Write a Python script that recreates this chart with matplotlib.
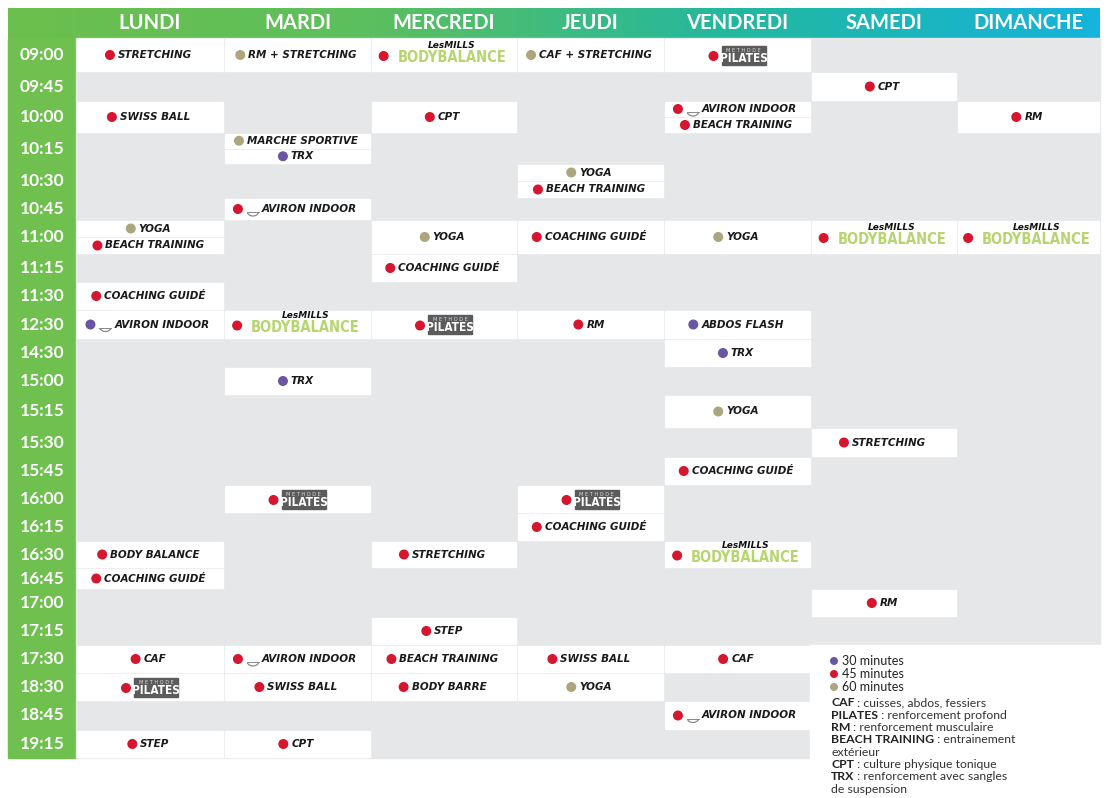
import matplotlib
matplotlib.use("Agg")
import matplotlib.pyplot as plt
from matplotlib.patches import Rectangle, Circle, Arc
from matplotlib.colors import LinearSegmentedColormap
import numpy as np

days = ["LUNDI", "MARDI", "MERCREDI", "JEUDI", "VENDREDI", "SAMEDI", "DIMANCHE"]
times = ["09:00", "09:45", "10:00", "10:15", "10:30", "10:45", "11:00", "11:15", "11:30",
         "12:30", "14:30", "15:00", "15:15", "15:30", "15:45", "16:00", "16:15", "16:30",
         "16:45", "17:00", "17:15", "17:30", "18:30", "18:45", "19:15"]
durations = [30, 45, 60]
dur_colors = {30: "#6a55a4", 45: "#d6152f", 60: "#aca67e"}

# events: (day index, time, label, duration, part)
lundi = [(0, "09:00", "STRETCHING", 45, "full"), (0, "10:00", "SWISS BALL", 45, "full"),
         (0, "11:00", "YOGA", 60, "top"), (0, "11:00", "BEACH TRAINING", 45, "bottom"),
         (0, "11:30", "COACHING GUIDÉ", 45, "full"), (0, "12:30", "AVIRON INDOOR", 30, "full"),
         (0, "16:30", "BODY BALANCE", 45, "full"), (0, "16:45", "COACHING GUIDÉ", 45, "full"),
         (0, "17:30", "CAF", 45, "full"), (0, "18:30", "PILATES", 45, "full"),
         (0, "19:15", "STEP", 45, "full")]
mardi = [(1, "09:00", "RM + STRETCHING", 60, "full"), (1, "10:15", "MARCHE SPORTIVE", 60, "top"),
         (1, "10:15", "TRX", 30, "bottom"), (1, "10:45", "AVIRON INDOOR", 45, "full"),
         (1, "12:30", "BODYBALANCE", 45, "full"), (1, "15:00", "TRX", 30, "full"),
         (1, "16:00", "PILATES", 45, "full"), (1, "17:30", "AVIRON INDOOR", 45, "full"),
         (1, "18:30", "SWISS BALL", 45, "full"), (1, "19:15", "CPT", 45, "full")]
mercredi = [(2, "09:00", "BODYBALANCE", 45, "full"), (2, "10:00", "CPT", 45, "full"),
            (2, "11:00", "YOGA", 60, "full"), (2, "11:15", "COACHING GUIDÉ", 45, "full"),
            (2, "12:30", "PILATES", 45, "full"), (2, "16:30", "STRETCHING", 45, "full"),
            (2, "17:15", "STEP", 45, "full"), (2, "17:30", "BEACH TRAINING", 45, "full"),
            (2, "18:30", "BODY BARRE", 45, "full")]
jeudi = [(3, "09:00", "CAF + STRETCHING", 60, "full"), (3, "10:30", "YOGA", 60, "top"),
         (3, "10:30", "BEACH TRAINING", 45, "bottom"), (3, "11:00", "COACHING GUIDÉ", 45, "full"),
         (3, "12:30", "RM", 45, "full"), (3, "16:00", "PILATES", 45, "full"),
         (3, "16:15", "COACHING GUIDÉ", 45, "full"), (3, "17:30", "SWISS BALL", 45, "full"),
         (3, "18:30", "YOGA", 60, "full")]
vendredi = [(4, "09:00", "PILATES", 45, "full"), (4, "10:00", "AVIRON INDOOR", 45, "top"),
            (4, "10:00", "BEACH TRAINING", 45, "bottom"), (4, "11:00", "YOGA", 60, "full"),
            (4, "12:30", "ABDOS FLASH", 30, "full"), (4, "14:30", "TRX", 30, "full"),
            (4, "15:15", "YOGA", 60, "full"), (4, "15:45", "COACHING GUIDÉ", 45, "full"),
            (4, "16:30", "BODYBALANCE", 45, "full"), (4, "17:30", "CAF", 45, "full"),
            (4, "18:45", "AVIRON INDOOR", 45, "full")]
samedi = [(5, "09:45", "CPT", 45, "full"), (5, "11:00", "BODYBALANCE", 45, "full"),
          (5, "15:30", "STRETCHING", 45, "full"), (5, "17:00", "RM", 45, "full")]
dimanche = [(6, "10:00", "RM", 45, "full"), (6, "11:00", "BODYBALANCE", 45, "full")]
events = lundi + mardi + mercredi + jeudi + vendredi + samedi + dimanche

legend_labels = ["30 minutes", "45 minutes", "60 minutes"]
glossary = [("CAF", " : cuisses, abdos, fessiers"), ("PILATES", " : renforcement profond"),
            ("RM", " : renforcement musculaire"), ("BEACH TRAINING", " : entrainement"),
            ("", "extérieur"), ("CPT", " : culture physique tonique"),
            ("TRX", " : renforcement avec sangles"), ("", "de suspension")]

# ---------- layout ----------
W, H = 1109, 798
row_edges = [38, 72, 101, 133, 164, 198, 220, 254, 282, 310, 339, 367, 395, 428, 457, 485,
             513, 541, 568, 589, 617, 645, 673, 701, 730, 758]
col_edges = [76, 224, 371, 517, 664, 811, 957, 1100]

fig = plt.figure(figsize=(W / 100, H / 100), dpi=100)
ax = fig.add_axes([0, 0, 1, 1])
ax.set_xlim(0, W)
ax.set_ylim(H, 0)
ax.axis("off")
r = fig.canvas.get_renderer()

grad = np.linspace(0, 1, 256)[None, :]
cm = LinearSegmentedColormap.from_list("g", ["#6cbf4c", "#5cbf5e", "#22b8a0", "#16b3dc"])
ax.imshow(grad, cmap=cm, extent=(8, 1100, 38, 8), aspect="auto", zorder=1)
ax.add_patch(Rectangle((8, 38), 68, 720, color="#6fc04e", zorder=1))
ax.add_patch(Rectangle((76, 38), 1024, 720, color="#e6e7e8", zorder=1))
ax.add_patch(Rectangle((col_edges[5] - 1, row_edges[21]), 300, 160, color="white", zorder=2))

for i, d in enumerate(days):
    ax.text((col_edges[i] + col_edges[i + 1]) / 2, 23, d, color="white", fontsize=14.5,
            fontweight="bold", family="Lato", ha="center", va="center", zorder=3)
for i, t in enumerate(times):
    ax.text(42, (row_edges[i] + row_edges[i + 1]) / 2, t, color="white", fontsize=12.5,
            fontweight="bold", family="Lato", ha="center", va="center", zorder=3)


def text_w(tobj):
    return tobj.get_window_extent(renderer=r).width


for d, t, lab, dur, part in events:
    i = times.index(t)
    x0, x1 = col_edges[d] + 1, col_edges[d + 1] - 1
    y0, y1 = row_edges[i] + 1, row_edges[i + 1] - 1
    if part == "top":
        y1 = (row_edges[i] + row_edges[i + 1]) / 2 - 1
    elif part == "bottom":
        y0 = (row_edges[i] + row_edges[i + 1]) / 2 + 1
    ax.add_patch(Rectangle((x0, y0), x1 - x0, y1 - y0, color="white", zorder=3))
    cx, cy = (x0 + x1) / 2, (y0 + y1) / 2
    col = dur_colors[dur]
    if lab == "BODYBALANCE":
        ax.text(cx + 8, cy - 9, "LesMILLS", fontsize=6.5, fontweight="bold", style="italic",
                family="DejaVu Sans", ha="center", va="center", color="#111", zorder=4)
        tt = ax.text(cx + 8, cy + 3, "BODYBALANCE", fontsize=10.5, fontweight="bold",
                     family="DejaVu Sans", fontstretch="condensed", ha="center", va="center",
                     color="#b6d56f", zorder=4)
        tt.set_transform(ax.transData)
        w = text_w(tt)
        ax.add_patch(Circle((cx + 8 - w / 2 - 14, cy + 1), 4.3, color=col, zorder=4))
    elif lab == "PILATES":
        bw, bh = 44, 19
        ax.add_patch(Rectangle((cx + 6 - bw / 2, cy - bh / 2), bw, bh, color="#5b5b5b", zorder=4))
        ax.text(cx + 6, cy - 5, "M E T H O D E", fontsize=3.6, color="#ddd", ha="center",
                va="center", zorder=5)
        ax.text(cx + 6, cy + 3, "PILATES", fontsize=8.5, color="white", fontweight="bold",
                family="DejaVu Sans", fontstretch="condensed", ha="center", va="center", zorder=5)
        ax.add_patch(Circle((cx + 6 - bw / 2 - 8, cy + 1), 4.3, color=col, zorder=4))
    else:
        shift = 12 if lab == "AVIRON INDOOR" else 5
        tt = ax.text(cx + shift, cy, lab, fontsize=7.5, fontweight="bold", style="italic",
                     family="DejaVu Sans", ha="center", va="center", color="#1a1a1a", zorder=4)
        w = text_w(tt)
        left = cx + shift - w / 2
        if lab == "AVIRON INDOOR":
            ax.add_patch(Arc((left - 9, cy + 2), 12, 10, theta1=200, theta2=340, angle=180,
                             color="#888", lw=0.9, zorder=4))
            ax.plot([left - 15, left - 3], [cy + 3, cy + 3], color="#888", lw=0.7, zorder=4)
            left -= 16
        ax.add_patch(Circle((left - 8, cy), 4.3, color=col, zorder=4))

for k, (dur, lab) in enumerate(zip(durations, legend_labels)):
    y = 661 + k * 13
    ax.add_patch(Circle((834, y), 3.3, color=dur_colors[dur], zorder=4))
    ax.text(842, y, lab, fontsize=9, family="Lato", va="center", color="#222", zorder=4)
for k, (b, rest) in enumerate(glossary):
    y = 703 + k * 12.3
    x = 831
    if b:
        tb = ax.text(x, y, b, fontsize=8.8, fontweight="bold", family="Lato", va="center",
                     color="#222", zorder=4)
        x += text_w(tb)
    ax.text(x, y, rest, fontsize=8.8, family="Lato", va="center", color="#333", zorder=4)

fig.savefig("out.png", dpi=100, facecolor="white")
